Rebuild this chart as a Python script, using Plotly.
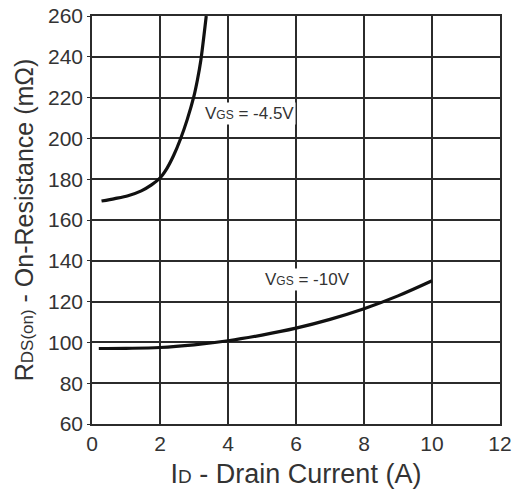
import plotly.graph_objects as go

# Data
id_45 = [0.28, 0.67, 1.06, 1.45, 1.75, 2.0, 2.2, 2.4, 2.6, 2.8, 3.0, 3.1, 3.2, 3.36]
r_45 = [169.3, 170.5, 171.9, 174.3, 177.2, 180.6, 185.2, 191.6, 199.6, 209.2, 220.8, 228.6, 238.2, 260.0]

id_10 = [0.2, 1.0, 2.0, 3.0, 4.0, 5.0, 6.0, 7.0, 8.0, 9.0, 10.0]
r_10 = [97.0, 97.1, 97.5, 98.8, 100.8, 103.6, 107.0, 111.3, 116.5, 122.8, 130.2]

x_ticks = [0, 2, 4, 6, 8, 10, 12]
y_ticks = [60, 80, 100, 120, 140, 160, 180, 200, 220, 240, 260]

label_45 = 'V<span style="font-size:12px">GS</span> = -4.5V'
label_10 = 'V<span style="font-size:12px">GS</span> = -10V'

FONT = "Liberation Sans, Arial, sans-serif"
GRID = "#2b2b2b"

fig = go.Figure()
fig.add_trace(go.Scatter(x=id_45, y=r_45, mode="lines",
                         line=dict(color="#111111", width=3.2, shape="spline", smoothing=0.8),
                         showlegend=False, hoverinfo="skip"))
fig.add_trace(go.Scatter(x=id_10, y=r_10, mode="lines",
                         line=dict(color="#111111", width=3.2, shape="spline", smoothing=1.0),
                         showlegend=False, hoverinfo="skip"))

fig.add_annotation(x=4.62, y=212, text=label_45, showarrow=False,
                   font=dict(family=FONT, size=17, color="#333333"),
                   bgcolor="white", borderpad=1)
fig.add_annotation(x=6.34, y=131, text=label_10, showarrow=False,
                   font=dict(family=FONT, size=17, color="#333333"),
                   bgcolor="white", borderpad=1)

fig.update_xaxes(range=[0, 12], tickvals=x_ticks, ticktext=[str(v) for v in x_ticks],
                 showgrid=True, gridcolor=GRID, gridwidth=1.6,
                 showline=True, linecolor=GRID, linewidth=1.6, mirror=True,
                 zeroline=False, ticks="", ticklen=0, automargin=False,
                 ticklabeloverflow="allow",
                 tickfont=dict(family=FONT, size=21, color="#333333"),
                 title=dict(text='I<span style="font-size:19px">D</span> - Drain Current (A)',
                            font=dict(family=FONT, size=27, color="#333333"), standoff=10))
fig.update_yaxes(range=[60, 260], tickvals=y_ticks, ticktext=[str(v) for v in y_ticks],
                 showgrid=True, gridcolor=GRID, gridwidth=1.6,
                 showline=True, linecolor=GRID, linewidth=1.6, mirror=True,
                 zeroline=False, ticks="outside", ticklen=3, tickcolor=GRID, tickwidth=1.4,
                 automargin=False, ticklabeloverflow="allow",
                 tickfont=dict(family=FONT, size=21, color="#333333"),
                 title=dict(text='R<span style="font-size:17px">DS(on)</span> - On-Resistance (mΩ)',
                            font=dict(family=FONT, size=25, color="#333333"), standoff=7))

fig.update_layout(width=512, height=492, paper_bgcolor="white", plot_bgcolor="white",
                  margin=dict(l=92, r=12, t=16, b=68), showlegend=False)

fig.write_html("out.html", config={"displayModeBar": False},
               post_script="document.body.style.margin='0';document.body.style.overflow='hidden';")
